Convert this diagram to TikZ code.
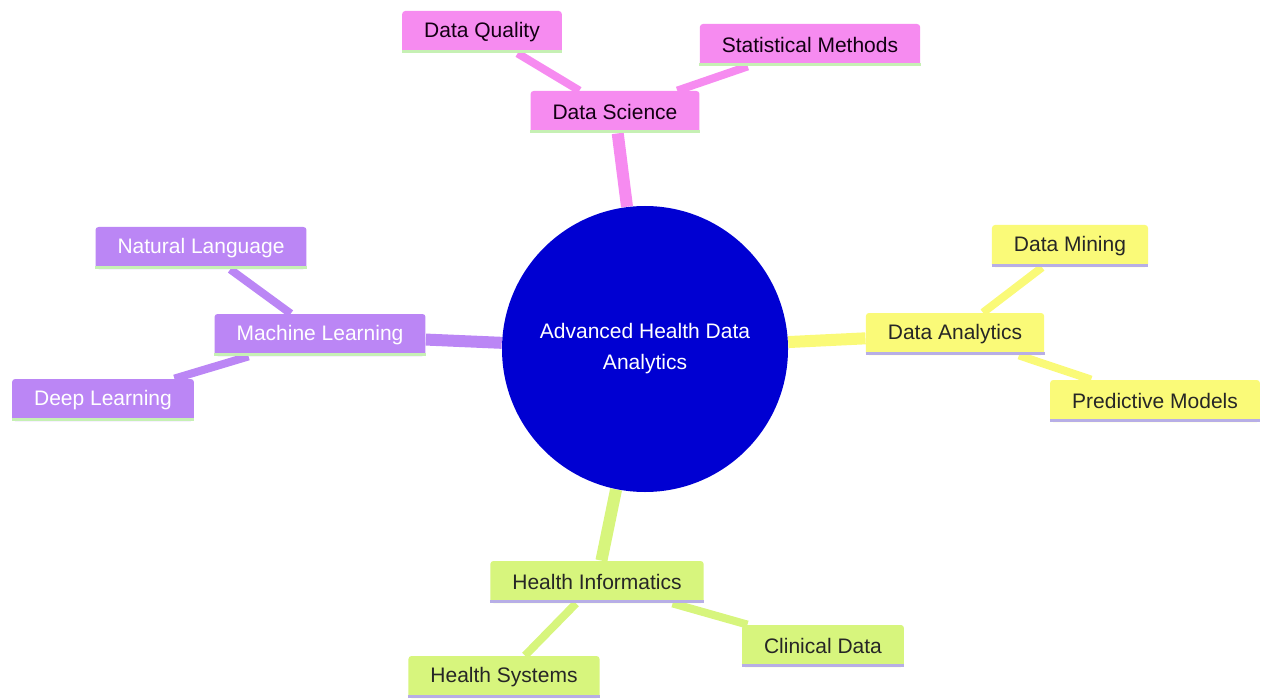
\documentclass[tikz,border=0pt]{standalone}
\usepackage{fontspec}
\setmainfont{Liberation Sans}
\usetikzlibrary{backgrounds}
\definecolor{hub}{HTML}{0000D2}
\definecolor{pinkc}{HTML}{F68BF0}
\definecolor{violetc}{HTML}{BB86F5}
\definecolor{yellowc}{HTML}{FAFA78}
\definecolor{limec}{HTML}{D7F57D}
\definecolor{ulgreen}{HTML}{C6F0B4}
\definecolor{ullav}{HTML}{B7AEE6}
\begin{document}
\begin{tikzpicture}[x=0.5pt,y=-0.5pt,
  box/.style={rounded corners=1.5pt, inner xsep=11pt, minimum height=21pt, font=\fontsize{10.5}{12}\selectfont},
  pinkbox/.style={box, fill=pinkc, text=black!85!violet},
  violetbox/.style={box, fill=violetc, text=white},
  yellowbox/.style={box, fill=yellowc, text=black!85},
  limebox/.style={box, fill=limec, text=black!85},
  trunk/.style={line width=6pt},
  twig/.style={line width=4pt}]
\useasboundingbox (0,0) rectangle (1262,700);
\node[circle, fill=hub, text=white, minimum size=143pt, align=center, font=\fontsize{10.5}{15.5}\selectfont] (00) at (645,349) {Advanced Health Data\\Analytics};
\node[pinkbox] (1) at (615,112) {Data Science};
\node[pinkbox] (11) at (482,32) {Data Quality};
\node[pinkbox] (12) at (810,45) {Statistical Methods};
\node[violetbox] (2) at (320,335) {Machine Learning};
\node[violetbox] (21) at (201,248) {Natural Language};
\node[violetbox] (22) at (103,400) {Deep Learning};
\node[yellowbox] (3) at (955,334) {Data Analytics};
\node[yellowbox] (31) at (1070,246) {Data Mining};
\node[yellowbox] (32) at (1155,401) {Predictive Models};
\node[limebox] (4) at (597,582) {Health Informatics};
\node[limebox] (41) at (823,646) {Clinical Data};
\node[limebox] (42) at (504,677) {Health Systems};
% underlines
\foreach \n/\c in {1/ulgreen,11/ulgreen,12/ulgreen,2/ulgreen,21/ulgreen,22/ulgreen,3/ullav,31/ullav,32/ullav,4/ullav,41/ullav,42/ullav}
  \draw[\c, line width=1.5pt] ([yshift=0.75pt]\n.south west) -- ([yshift=0.75pt]\n.south east);
\begin{pgfonlayer}{background}
\draw[trunk, pinkc] (00)--(1);
\draw[twig, pinkc] (11)--(1)--(12);
\draw[trunk, violetc] (00)--(2);
\draw[twig, violetc] (21)--(2)--(22);
\draw[trunk, yellowc] (00)--(3);
\draw[twig, yellowc] (31)--(3)--(32);
\draw[trunk, limec] (00)--(4);
\draw[twig, limec] (41)--(4)--(42);
\end{pgfonlayer}
\end{tikzpicture}
\end{document}
